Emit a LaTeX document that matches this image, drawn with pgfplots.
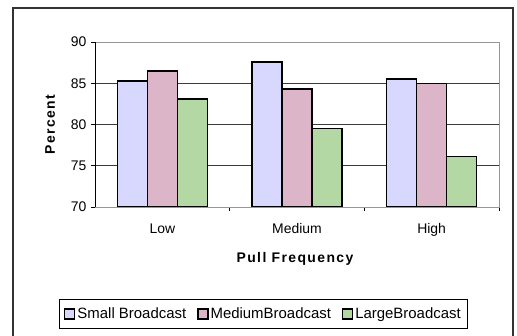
\documentclass[border=0pt]{standalone}
\usepackage{pgfplots}
\pgfplotsset{compat=1.18}
\usepackage{fontspec}
\setmainfont{Liberation Sans}
\newfontfamily\lblfont[LetterSpace=10]{Liberation Sans}
\definecolor{cSmall}{RGB}{216,216,255}
\definecolor{cMed}{RGB}{220,182,200}
\definecolor{cLarge}{RGB}{180,216,164}
\definecolor{gridc}{RGB}{60,60,60}
\definecolor{framec}{RGB}{150,150,150}
\begin{document}
\begin{tikzpicture}
\useasboundingbox (0bp,0bp) rectangle (517bp,336bp);
\draw[line width=1.2bp, black!80] (13bp,-10bp) -- (13bp,328bp) -- (513bp,328bp) -- (513bp,-10bp);
\begin{axis}[
  at={(95bp,129bp)}, anchor=south west,
  scale only axis, width=404bp, height=165bp,
  xmin=-0.5, xmax=2.5, ymin=70, ymax=90,
  ytick={70,75,80,85,90},
  xtick={0,1,2}, xticklabels={Low,Medium,High},
  minor xtick={0.5,1.5,2.5},
  xtick pos=bottom, ytick pos=left,
  major x tick style={draw=none},
  minor x tick style={draw=black, line width=0.8bp},
  y tick style={draw=black, line width=0.8bp},
  tick align=outside,
  major tick length=4bp, minor tick length=4bp,
  ymajorgrids, grid style={draw=gridc, line width=0.8bp},
  axis line style={draw=framec, line width=0.8bp},
  /pgf/number format/assume math mode=true,
  tick label style={font=\fontsize{14}{16}\selectfont},
  xticklabel style={yshift=-9bp},
  yticklabel style={xshift=-1bp},
  ybar=0pt, bar width=30bp,
  xlabel={\lblfont\bfseries Pull Frequency},
  ylabel={\lblfont\bfseries Percent},
  xlabel style={at={(axis description cs:0.495,-0.315)}, anchor=center, font=\fontsize{14}{16}\selectfont},
  ylabel style={at={(axis description cs:-0.111,0.5)}, anchor=center, font=\fontsize{14}{16}\selectfont},
  legend columns=3,
  legend style={at={(axis description cs:0.417,-0.648)}, anchor=center,
    draw=black, line width=0.8bp, font=\fontsize{15}{17}\selectfont,
    inner xsep=5bp, inner ysep=6bp,
    /tikz/every even column/.append style={column sep=9bp}},
  legend image code/.code={\draw[#1, line width=1.3bp] (0bp,-5bp) rectangle (10bp,5bp);},
]
\addplot[fill=cSmall, draw=black, line width=1.5bp] coordinates {(0,85.3) (1,87.6) (2,85.5)};
\addplot[fill=cMed, draw=black, line width=1.5bp] coordinates {(0,86.5) (1,84.3) (2,85.0)};
\addplot[fill=cLarge, draw=black, line width=1.5bp] coordinates {(0,83.1) (1,79.5) (2,76.1)};
\legend{Small Broadcast, MediumBroadcast, LargeBroadcast}
\draw[black, line width=0.8bp] (rel axis cs:0,1) -- (rel axis cs:0,0) -- (rel axis cs:1,0);
\end{axis}
\end{tikzpicture}
\end{document}
